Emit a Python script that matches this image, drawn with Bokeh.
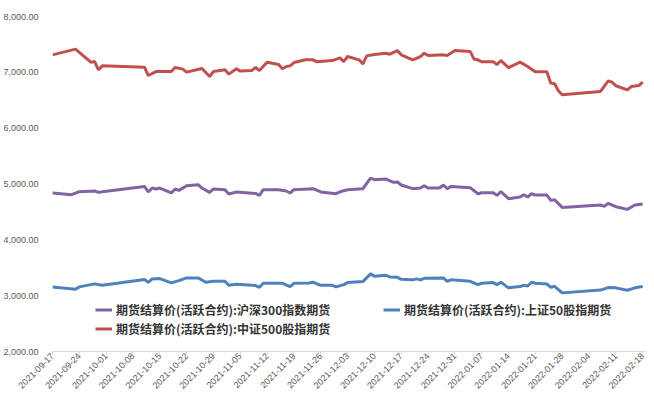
import pandas as pd
from math import pi

from bokeh.plotting import figure
from bokeh.models import (FixedTicker, NumeralTickFormatter, DatetimeTickFormatter,
                          Legend, LegendItem, Range1d)
from bokeh.embed import file_html
from bokeh.resources import INLINE

# 周度刻度
tick_dates = ['2021-09-17', '2021-09-24', '2021-10-01', '2021-10-08', '2021-10-15',
              '2021-10-22', '2021-10-29', '2021-11-05', '2021-11-12', '2021-11-19',
              '2021-11-26', '2021-12-03', '2021-12-10', '2021-12-17', '2021-12-24',
              '2021-12-31', '2022-01-07', '2022-01-14', '2022-01-21', '2022-01-28',
              '2022-02-04', '2022-02-11', '2022-02-18']
y_ticks = [2000, 3000, 4000, 5000, 6000, 7000, 8000]

# 沪深300指数期货
hs300_dates = ['2021-09-17', '2021-09-22', '2021-09-24', '2021-09-28', '2021-09-29', '2021-09-30',
               '2021-10-11', '2021-10-12', '2021-10-13', '2021-10-14', '2021-10-15', '2021-10-18',
               '2021-10-19', '2021-10-20', '2021-10-22', '2021-10-25', '2021-10-26', '2021-10-28',
               '2021-10-29', '2021-11-01', '2021-11-02', '2021-11-04', '2021-11-09', '2021-11-10',
               '2021-11-11', '2021-11-15', '2021-11-17', '2021-11-18', '2021-11-19', '2021-11-24',
               '2021-11-26', '2021-11-30', '2021-12-01', '2021-12-02', '2021-12-03', '2021-12-07',
               '2021-12-09', '2021-12-10', '2021-12-13', '2021-12-15', '2021-12-16', '2021-12-17',
               '2021-12-20', '2021-12-22', '2021-12-23', '2021-12-24', '2021-12-27', '2021-12-28',
               '2021-12-29', '2021-12-30', '2022-01-04', '2022-01-06', '2022-01-07', '2022-01-10',
               '2022-01-11', '2022-01-12', '2022-01-14', '2022-01-17', '2022-01-18', '2022-01-19',
               '2022-01-20', '2022-01-21', '2022-01-24', '2022-01-25', '2022-01-26', '2022-01-28',
               '2022-02-07', '2022-02-08', '2022-02-09', '2022-02-11', '2022-02-14', '2022-02-16',
               '2022-02-18']
hs300_vals = [4839, 4809, 4862, 4875, 4850, 4862,
              4957, 4857, 4928, 4911, 4928, 4839,
              4911, 4886, 4970, 4987, 4928, 4850,
              4911, 4898, 4821, 4857, 4832, 4796,
              4898, 4898, 4875, 4839, 4898, 4916,
              4857, 4826, 4857, 4880, 4898, 4916,
              5107, 5077, 5089, 5029, 5036, 4982,
              4916, 4928, 4970, 4928, 4928, 4982,
              4916, 4957, 4934, 4826, 4844, 4844,
              4796, 4862, 4737, 4767, 4809, 4767,
              4826, 4803, 4803, 4707, 4719, 4581,
              4624, 4599, 4653, 4594, 4546, 4624,
              4642]

# 上证50股指期货
sz50_dates = ['2021-09-17', '2021-09-23', '2021-09-24', '2021-09-28', '2021-09-30', '2021-10-11',
              '2021-10-12', '2021-10-13', '2021-10-15', '2021-10-18', '2021-10-20', '2021-10-22',
              '2021-10-25', '2021-10-27', '2021-10-29', '2021-11-01', '2021-11-02', '2021-11-04',
              '2021-11-09', '2021-11-10', '2021-11-11', '2021-11-16', '2021-11-18', '2021-11-19',
              '2021-11-23', '2021-11-24', '2021-11-26', '2021-11-29', '2021-11-30', '2021-12-02',
              '2021-12-03', '2021-12-07', '2021-12-09', '2021-12-10', '2021-12-13', '2021-12-14',
              '2021-12-16', '2021-12-17', '2021-12-20', '2021-12-21', '2021-12-22', '2021-12-23',
              '2021-12-28', '2021-12-29', '2021-12-30', '2022-01-04', '2022-01-06', '2022-01-07',
              '2022-01-10', '2022-01-11', '2022-01-12', '2022-01-14', '2022-01-17', '2022-01-18',
              '2022-01-19', '2022-01-20', '2022-01-21', '2022-01-24', '2022-01-25', '2022-01-26',
              '2022-01-28', '2022-02-07', '2022-02-09', '2022-02-11', '2022-02-14', '2022-02-16',
              '2022-02-18']
sz50_vals = [3157, 3115, 3157, 3211, 3186, 3288,
             3240, 3300, 3306, 3229, 3270, 3318,
             3318, 3240, 3258, 3258, 3186, 3204,
             3181, 3150, 3222, 3222, 3163, 3222,
             3229, 3240, 3186, 3186, 3157, 3198,
             3234, 3252, 3390, 3347, 3365, 3336,
             3329, 3293, 3283, 3300, 3283, 3311,
             3318, 3258, 3283, 3258, 3198, 3222,
             3234, 3198, 3240, 3140, 3163, 3186,
             3175, 3240, 3222, 3211, 3150, 3168,
             3050, 3100, 3145, 3140, 3097, 3140,
             3163]

# 中证500股指期货
zz500_dates = ['2021-09-17', '2021-09-23', '2021-09-27', '2021-09-28', '2021-09-29', '2021-09-30',
               '2021-10-11', '2021-10-12', '2021-10-14', '2021-10-18', '2021-10-19', '2021-10-21',
               '2021-10-22', '2021-10-26', '2021-10-28', '2021-10-29', '2021-11-01', '2021-11-02',
               '2021-11-04', '2021-11-05', '2021-11-08', '2021-11-09', '2021-11-10', '2021-11-12',
               '2021-11-15', '2021-11-16', '2021-11-17', '2021-11-18', '2021-11-19', '2021-11-22',
               '2021-11-24', '2021-11-25', '2021-11-29', '2021-12-01', '2021-12-02', '2021-12-03',
               '2021-12-06', '2021-12-07', '2021-12-08', '2021-12-10', '2021-12-13', '2021-12-14',
               '2021-12-16', '2021-12-17', '2021-12-20', '2021-12-22', '2021-12-23', '2021-12-24',
               '2021-12-28', '2021-12-29', '2021-12-31', '2022-01-04', '2022-01-05', '2022-01-06',
               '2022-01-07', '2022-01-10', '2022-01-11', '2022-01-12', '2022-01-14', '2022-01-17',
               '2022-01-19', '2022-01-20', '2022-01-21', '2022-01-24', '2022-01-25', '2022-01-26',
               '2022-01-27', '2022-01-28', '2022-02-07', '2022-02-09', '2022-02-10', '2022-02-11',
               '2022-02-14', '2022-02-15', '2022-02-17', '2022-02-18']
zz500_vals = [7313, 7415, 7182, 7193, 7045, 7116,
              7093, 6943, 7014, 7014, 7086, 7057,
              7004, 7069, 6925, 7014, 7045, 6968,
              7063, 7022, 7034, 7086, 7034, 7182,
              7140, 7063, 7104, 7116, 7175, 7224,
              7224, 7188, 7211, 7259, 7193, 7283,
              7224, 7152, 7295, 7319, 7343, 7325,
              7390, 7313, 7224, 7283, 7343, 7301,
              7313, 7301, 7390, 7372, 7236, 7224,
              7188, 7188, 7140, 7211, 7086, 7182,
              7104, 7057, 7009, 7009, 6807, 6794,
              6669, 6597, 6657, 6848, 6825, 6759,
              6687, 6746, 6764, 6825]

label_hs300 = '期货结算价(活跃合约):沪深300指数期货'
label_sz50 = '期货结算价(活跃合约):上证50股指期货'
label_zz500 = '期货结算价(活跃合约):中证500股指期货'

p = figure(width=646, height=397,
           x_axis_type='datetime',
           x_range=Range1d(pd.Timestamp('2021-09-17'), pd.Timestamp('2022-02-19')),
           y_range=Range1d(2000, 8000),
           output_backend='svg', toolbar_location=None,
           min_border_left=41, min_border_right=0,
           min_border_top=16, min_border_bottom=46)
p.outline_line_color = None
p.grid.visible = False

# 绘制三条曲线
r_hs300 = p.line(pd.to_datetime(hs300_dates), hs300_vals, line_width=3, color='#8064A2')
r_sz50 = p.line(pd.to_datetime(sz50_dates), sz50_vals, line_width=3, color='#4F81BD')
r_zz500 = p.line(pd.to_datetime(zz500_dates), zz500_vals, line_width=3, color='#C0504D')

# x轴
xa = p.xaxis[0]
xa.ticker = FixedTicker(ticks=[pd.Timestamp(d).value / 1e6 for d in tick_dates])
fmt = '%Y-%m-%d'
xa.formatter = DatetimeTickFormatter(days=fmt, months=fmt, years=fmt, hours=fmt,
                                     hourmin=fmt, minutes=fmt, minsec=fmt,
                                     seconds=fmt, milliseconds=fmt, microseconds=fmt)
xa.major_label_orientation = pi / 4
xa.axis_line_color = '#d9d9d9'
xa.major_tick_line_color = '#d9d9d9'
xa.major_tick_in = 0
xa.major_tick_out = 3
xa.minor_tick_line_color = None
xa.major_label_text_font = 'Liberation Sans'
xa.major_label_text_font_size = '9px'
xa.major_label_text_color = '#595959'
xa.major_label_standoff = 0

# y轴
ya = p.yaxis[0]
ya.ticker = FixedTicker(ticks=y_ticks)
ya.formatter = NumeralTickFormatter(format='0,0.00')
ya.axis_line_color = None
ya.major_tick_line_color = None
ya.minor_tick_line_color = None
ya.major_label_text_font = 'Liberation Sans'
ya.major_label_text_font_size = '9px'
ya.major_label_text_color = '#595959'
ya.major_label_standoff = 8

# 图例
def style_legend(lg):
    lg.border_line_color = None
    lg.background_fill_alpha = 0
    lg.padding = 0
    lg.margin = 0
    lg.spacing = 0
    lg.glyph_width = 17
    lg.glyph_height = 19
    lg.label_height = 19
    lg.label_standoff = 4
    lg.label_text_font = 'Noto Sans CJK SC'
    lg.label_text_font_size = '12px'
    lg.label_text_font_style = 'bold'
    lg.label_text_color = '#333333'

legend_a = Legend(items=[LegendItem(label=label_hs300, renderers=[r_hs300]),
                         LegendItem(label=label_zz500, renderers=[r_zz500])],
                  location=(43, 13))
legend_b = Legend(items=[LegendItem(label=label_sz50, renderers=[r_sz50])],
                  location=(331, 32))
style_legend(legend_a)
style_legend(legend_b)
p.add_layout(legend_a)
p.add_layout(legend_b)

open('out.html', 'w', encoding='utf-8').write(file_html(p, INLINE))
